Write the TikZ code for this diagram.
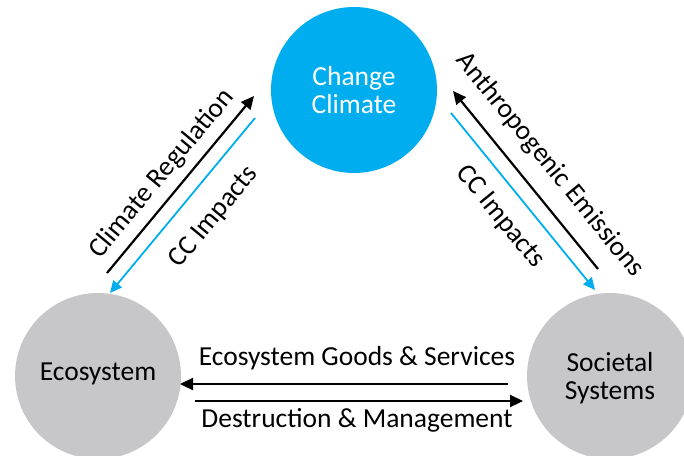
\documentclass[tikz,border=0pt]{standalone}
\usepackage{fontspec}
\setmainfont{Carlito}
\usetikzlibrary{arrows.meta}
\definecolor{skyblue}{RGB}{0,174,239}
\definecolor{lightgray}{RGB}{199,199,201}
\begin{document}
\begin{tikzpicture}[x=1pt,y=-1pt,
  bubble/.style={circle,minimum size=166pt,inner sep=0pt,align=center,font=\fontsize{27.5}{28}\selectfont},
  lbl/.style={font=\fontsize{27.5}{28}\selectfont,inner sep=0pt},
  blackarrow/.style={draw=black,line width=2.2pt,-{Triangle[length=13pt,width=12pt]}},
  bluearrow/.style={draw=skyblue,line width=1.8pt,-{Triangle[length=12pt,width=11pt]}}]
  \useasboundingbox (0,0) rectangle (684,455);
  \clip (0,0) rectangle (684,455);

  % the three systems
  \node[bubble,fill=skyblue,text=white] (climate) at (354,90) {Change\\Climate};
  \node[bubble,fill=lightgray,text=black] (eco) at (98,376) {};
  \node[lbl] (ecotext) at (98,374) {Ecosystem};
  \node[bubble,fill=lightgray,text=black] (soc) at (610,376) {};
  \node[lbl,align=center] (soctext) at (610,378) {Societal\\Systems};

  % arrow end points along the gaps between the circles
  \coordinate (crA) at (107,273);
  \coordinate (crB) at (254,96);
  \coordinate (ciA) at (255,118);
  \coordinate (ciB) at (110,293);
  \coordinate (aeA) at (598,269);
  \coordinate (aeB) at (453,91);
  \coordinate (cjA) at (451,113);
  \coordinate (cjB) at (595,290);
  \coordinate (gsA) at (508,384);
  \coordinate (gsB) at (180,384);
  \coordinate (dmA) at (195,401);
  \coordinate (dmB) at (523,401);

  \draw[blackarrow] (crA) -- (crB);
  \draw[bluearrow] (ciA) -- (ciB);
  \draw[blackarrow] (aeA) -- (aeB);
  \draw[bluearrow] (cjA) -- (cjB);
  \draw[blackarrow] (gsA) -- (gsB);
  \draw[blackarrow] (dmA) -- (dmB);

  % flow labels
  \node[lbl,rotate=50.3] (crl) at (162,174) {Climate Regulation};
  \node[lbl,rotate=50.3] (cil) at (214,217) {CC Impacts};
  \node[lbl,rotate=-50.8] (ael) at (550,165) {Anthropogenic Emissions};
  \node[lbl,rotate=-50.8] (cjl) at (500,217) {CC Impacts};
  \node[lbl] (gsl) at (357,358) {Ecosystem Goods \& Services};
  \node[lbl] (dml) at (357,420) {Destruction \& Management};
\end{tikzpicture}
\end{document}
